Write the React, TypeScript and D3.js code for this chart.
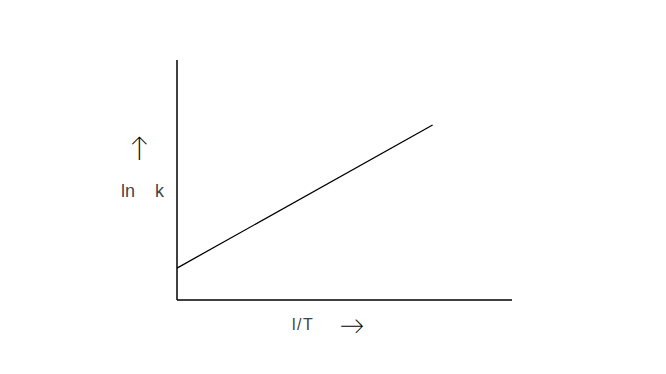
import React from "react";
import * as d3 from "d3";

const xDomain = [0, 1];
const yDomain = [0, 1];
const lineX = [0, 0.763];
const lineY = [0.133, 0.729];
const yLabel = "ln    k";
const xLabel = "l/T";

export default function App() {
  const W = 666, H = 374;
  const x = d3.scaleLinear().domain(xDomain).range([177, 512]);
  const y = d3.scaleLinear().domain(yDomain).range([300, 60]);
  const pts = lineX.map((v, i) => [v, lineY[i]] as [number, number]);
  const line = d3.line<[number, number]>().x(d => x(d[0])).y(d => y(d[1]));
  const font = "'Liberation Sans', Arial, sans-serif";
  const arrowFont = "Lato, sans-serif";
  return (
    <svg width={W} height={H} style={{ position: "absolute", left: 0, top: 0, background: "#fff" }}>
      <line x1={x(0)} y1={y(1)} x2={x(0)} y2={y(0)} stroke="#000" strokeWidth={1.5} />
      <line x1={x(0)} y1={y(0)} x2={x(1)} y2={y(0)} stroke="#000" strokeWidth={1.5} />
      <path d={line(pts) || ""} fill="none" stroke="#000" strokeWidth={1.3} />
      <text x={139} y={157} fontFamily={arrowFont} fontSize={27} fontWeight={300} textAnchor="middle" fill="#000">↑</text>
      <text x={121} y={197} fontFamily={font} fontSize={18} fill="#444" style={{ whiteSpace: "pre" }}>{yLabel}</text>
      <text x={292} y={330} fontFamily={font} fontSize={16} letterSpacing={1.5} fill="#444">{xLabel}</text>
      <text x={352} y={334} fontFamily={arrowFont} fontSize={25} fontWeight={300} textAnchor="middle" fill="#000">→</text>
    </svg>
  );
}
